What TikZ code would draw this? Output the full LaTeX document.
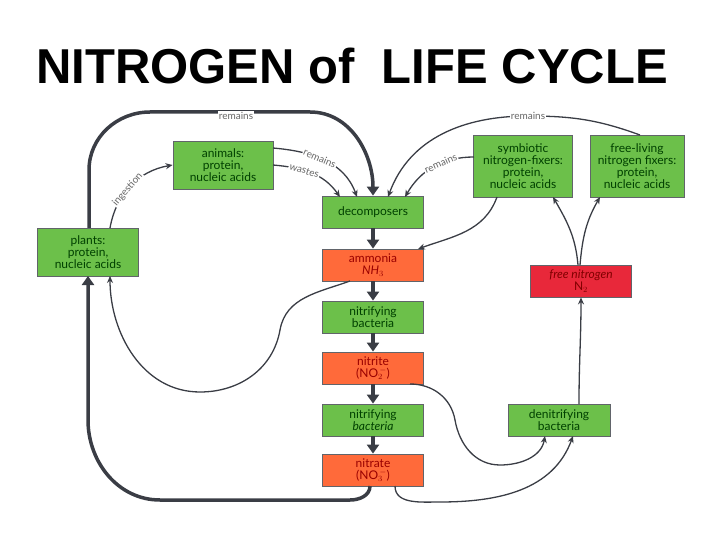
\documentclass[tikz,border=0pt]{standalone}
\usepackage{fontspec}
\setmainfont{Lato}
\newfontfamily\titlefont{Liberation Sans}
\usetikzlibrary{arrows.meta}
\definecolor{gbox}{HTML}{6CC04A}
\definecolor{obox}{HTML}{FF6A3A}
\definecolor{rbox}{HTML}{E8283A}
\definecolor{ln}{HTML}{3A3D45}
\begin{document}
\begin{tikzpicture}[x=1pt,y=-1pt,
  box/.style={draw=ln!80,line width=0.8pt,minimum width=101pt,minimum height=32pt,inner sep=1pt,align=center,font=\fontsize{12}{12}\selectfont,text=black!75!green},
  gb/.style={box,fill=gbox},
  ob/.style={box,fill=obox,text=red!60!black},
  thin/.style={ln,line width=1.3pt,-{Stealth[length=7pt,width=6pt]}},
  thick/.style={ln,line width=3.5pt,-{Triangle[length=9pt,width=12pt]}},
  lab/.style={font=\fontsize{10}{10}\selectfont,text=black!60,fill=white,inner sep=1pt}]
\useasboundingbox (0,0) rectangle (720,540);
\node[font=\titlefont\bfseries\fontsize{49}{49}\selectfont] (title) at (352,66) {NITROGEN of\ \ LIFE CYCLE};
\node[gb,minimum height=48pt] (plants) at (88,252) {plants:\\protein,\\nucleic acids};
\node[gb,minimum width=100pt,minimum height=48pt] (animals) at (223,165) {animals:\\protein,\\nucleic acids};
\node[gb] (dec) at (373,212) {decomposers};
\node[ob] (amm) at (373,265) {ammonia\\\textit{NH$_3$}};
\node[gb] (nit1) at (373,317) {nitrifying\\bacteria};
\node[ob] (nitrite) at (373,368) {nitrite\\(NO$_2^{\,-}$)};
\node[gb] (nit2) at (373,420) {nitrifying\\\textit{bacteria}};
\node[ob] (nitrate) at (373,470) {nitrate\\(NO$_3^{\,-}$)};
\node[gb,minimum width=99pt,minimum height=62pt] (sym) at (523,166) {symbiotic\\nitrogen-fixers:\\protein,\\nucleic acids};
\node[gb,minimum width=94pt,minimum height=62pt] (free) at (637,166) {free-living\\nitrogen fixers:\\protein,\\nucleic acids};
\node[box,fill=rbox,text=red!50!black] (n2) at (581,281) {\textit{free nitrogen}\\N$_2$};
\node[gb,minimum width=102pt] (den) at (559,420) {denitrifying\\bacteria};
% chain
\draw[thick] (dec) -- (amm);
\draw[thick] (amm) -- (nit1);
\draw[thick] (nit1) -- (nitrite);
\draw[thick] (nitrite) -- (nit2);
\draw[thick] (nit2) -- (nitrate);
% big remains
\draw[thick] (89,228) -- (89,170) to[out=90,in=180] (150,112) -- (310,112) to[out=0,in=90] (dec.north);
\node[lab] (rem1) at (236,116) {remains};
% ingestion
\draw[thin] (110,228) to[out=80,in=190] node[lab,sloped,pos=0.45] (ing) {ingestion} (animals.west);
% animals remains/wastes
\draw[thin] (273,148) to[out=-5,in=110] node[lab,sloped,pos=0.45] (r2) {remains} (357,197);
\draw[thin] (273,165) to[out=-5,in=125] node[lab,sloped,pos=0.4] (w2) {wastes} (340,197);
% remains from free-living
\draw[thin] (640,135) to[out=160,in=0] (528,116) to[out=180,in=70] (388,197);
\node[lab] (rem3) at (528,116) {remains};
\draw[thin] (474,157) to[out=180,in=60] node[lab,sloped,pos=0.4] (r4) {remains} (405,197);
% symbiotic to ammonia
\draw[thin] (497,197) to[out=-110,in=20] (418,249);
% ammonia to plants
\draw[thin] (350,281) to[out=200,in=80] (280,330) to[out=-100,in=0] (200,392) to[out=180,in=-90] (110,276);
% nitrate to plants
\draw[thick] (370,486) to[out=-90,in=0] (350,500) -- (160,500) to[out=180,in=-90] (88,420) -- (88,276);
% nitrite to denitrifying
\draw[thin] (410,384) to[out=0,in=100] (455,420) to[out=-80,in=180] (500,465) to[out=0,in=-100] (545,436);
% nitrate to denitrifying
\draw[thin] (395,486) to[out=-90,in=180] (440,502) to[out=0,in=-110] (573,436);
% den to N2
\draw[thin] (579,404) to[out=90,in=-90] (n2.south);
% N2 to fixers
\draw[thin] (578,265) to[out=95,in=-60] (553,197);
\draw[thin] (580,265) to[out=85,in=-120] (600,197);
\end{tikzpicture}
\end{document}
